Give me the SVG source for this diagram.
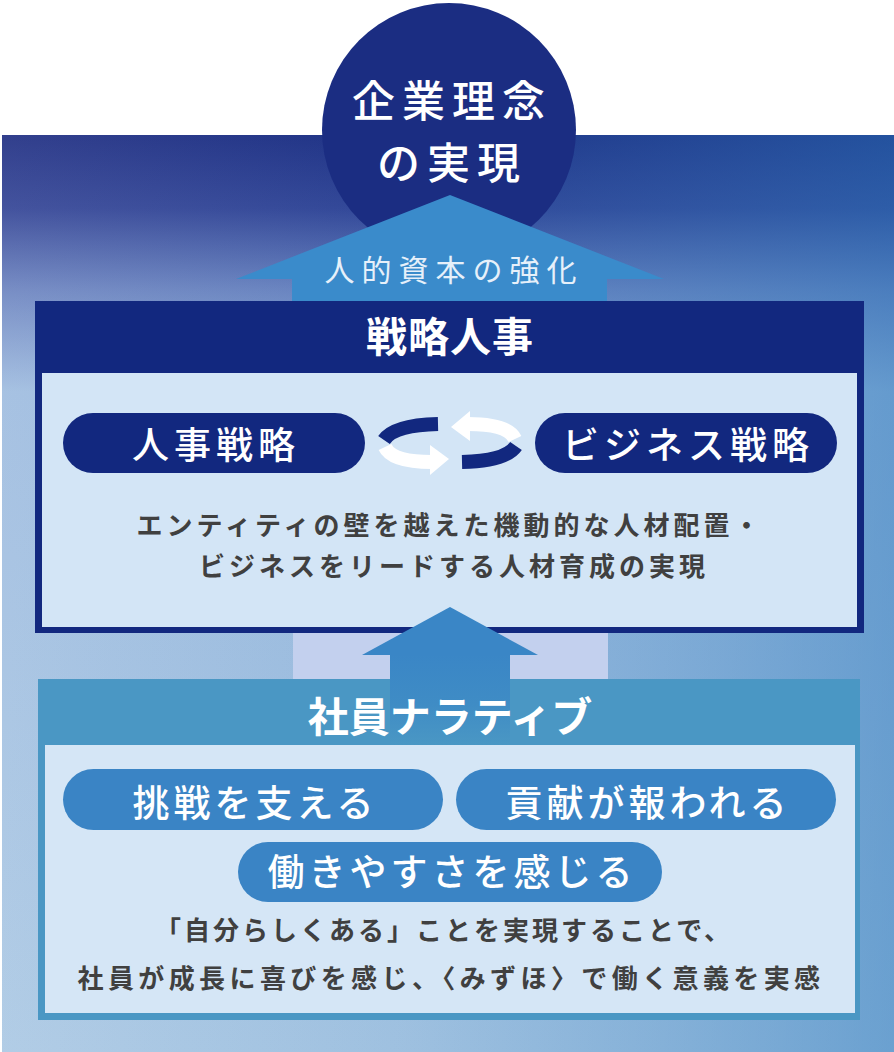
<svg xmlns="http://www.w3.org/2000/svg" width="894" height="1052" viewBox="0 0 894 1052">
<defs>
<linearGradient id="bgV" x1="0" y1="0" x2="0" y2="1">
<stop offset="0" stop-color="#1b2a80"/>
<stop offset="0.08" stop-color="#2f4093"/>
<stop offset="0.17" stop-color="#6a82bf"/>
<stop offset="0.28" stop-color="#9dbbdf"/>
<stop offset="1" stop-color="#a9c7e3"/>
</linearGradient>
<linearGradient id="bgH" x1="0" y1="0" x2="1" y2="0">
<stop offset="0" stop-color="#ffffff" stop-opacity="0.1"/>
<stop offset="0.45" stop-color="#3f86c3" stop-opacity="0.1"/>
<stop offset="1" stop-color="#2c7abd" stop-opacity="0.5"/>
</linearGradient>
<linearGradient id="shaft" x1="0" y1="0" x2="0" y2="1">
<stop offset="0" stop-color="#3a86c6"/>
<stop offset="0.55" stop-color="#3f8cc5"/>
<stop offset="1" stop-color="#4a97c4"/>
</linearGradient>
<style>
text{font-family:"Noto Sans CJK JP","Noto Sans CJK SC",sans-serif;text-anchor:middle}
.w{fill:#ffffff}
.hd{font-size:41px;font-weight:700}
.pill{font-size:37px;font-weight:500;letter-spacing:5px}
.body{font-size:26px;font-weight:700;fill:#404040;letter-spacing:4px}
.navy{fill:#12287f}
.mid{fill:#3a84c5}
</style>
</defs>

<g id="background">
<rect x="2" y="135" width="892" height="917" fill="url(#bgV)"/>
<rect x="2" y="135" width="892" height="917" fill="url(#bgH)"/>
</g>

<g id="goal">
<circle cx="449" cy="130" r="127" fill="#1b2d82"/>
<text class="w" x="452" y="117" style="font-size:43px;font-weight:500;letter-spacing:7px">企業理念</text>
<text class="w" x="452" y="179" style="font-size:43px;font-weight:500;letter-spacing:7px">の実現</text>
</g>

<g id="connectors">
<g id="arrow-top">
<polygon points="450,195 236,279 292,279 292,305 607,305 607,279 664,279" fill="#3a8bcb"/>
<text x="454" y="281" style="font-size:30px;font-weight:400;letter-spacing:7px;fill:#e6f0fa">人的資本の強化</text>
</g>
</g>

<g id="strategic-hr">
<rect x="35" y="301" width="829" height="332" fill="#12287f"/>
<rect x="42" y="373" width="815" height="254" fill="#d3e5f6"/>
<text class="w hd" x="450" y="352" style="letter-spacing:1px">戦略人事</text>
</g>

<g id="hr-strategy">
<rect class="navy" x="63" y="413" width="302" height="60" rx="30"/>
<text class="w pill" x="216" y="459">人事戦略</text>
</g>

<g id="business-strategy">
<rect class="navy" x="535" y="413" width="302" height="60" rx="30"/>
<text class="w pill" x="688" y="459">ビジネス戦略</text>
</g>

<g id="cycle">
<path d="M438,424 Q394,425 384,440" fill="none" stroke="#12287f" stroke-width="14"/>
<path d="M385,447 Q392,462 432,462" fill="none" stroke="#ffffff" stroke-width="14"/>
<polygon points="430,445 449,459 430,475" fill="#ffffff"/>
<path d="M515,439 Q508,424 468,424" fill="none" stroke="#ffffff" stroke-width="14"/>
<polygon points="470,411 451,427 470,441" fill="#ffffff"/>
<path d="M462,462 Q506,461 516,446" fill="none" stroke="#12287f" stroke-width="14"/>
</g>

<g id="hr-text">
<text class="body" x="450" y="535">エンティティの壁を越えた機動的な人材配置・</text>
<text class="body" x="454" y="576">ビジネスをリードする人材育成の実現</text>
</g>

<g id="employee-narrative">
<rect x="293" y="633" width="315" height="47" fill="#c3d0ee"/>
<rect x="38" y="679" width="822" height="341" fill="#4a97c4"/>
<rect x="45" y="745" width="810" height="268" fill="#d5e6f6"/>
</g>

<g id="arrow-mid">
<polygon points="450,607 362,655 538,655" fill="#3a86c6"/>
<rect x="390" y="654" width="120" height="91" fill="url(#shaft)"/>
</g>

<g id="narrative-title">
<text class="w hd" x="450" y="732">社員ナラティブ</text>
</g>

<g id="challenge">
<rect class="mid" x="63" y="769" width="380" height="61" rx="30.5"/>
<text class="w pill" x="255" y="817" style="letter-spacing:4px">挑戦を支える</text>
</g>

<g id="contribution">
<rect class="mid" x="456" y="769" width="380" height="61" rx="30.5"/>
<text class="w pill" x="648" y="817" style="letter-spacing:4px">貢献が報われる</text>
</g>

<g id="workplace">
<rect class="mid" x="238" y="842" width="424" height="60" rx="30"/>
<text class="w pill" x="452" y="886" style="letter-spacing:4px">働きやすさを感じる</text>
</g>

<g id="narrative-text">
<text class="body" x="444" y="940" style="letter-spacing:3px">「自分らしくある」ことを実現することで、</text>
<text class="body" x="451" y="988" style="letter-spacing:4.4px">社員が成長に喜びを感じ、〈みずほ〉で働く意義を実感</text>
</g>
</svg>
